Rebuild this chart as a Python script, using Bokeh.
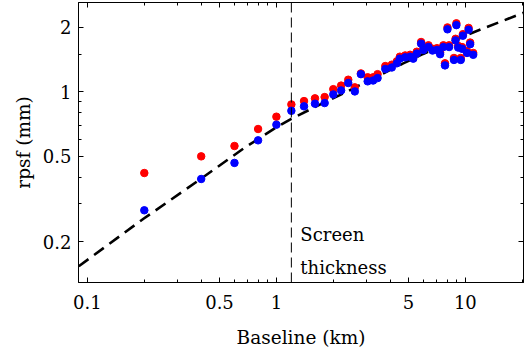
from bokeh.plotting import figure
from bokeh.models import LogAxis, FixedTicker, CustomJSTickFormatter, Span, Label, Range1d
from bokeh.embed import file_html
from bokeh.resources import INLINE

# ---- data ----
baseline_km = [0.2, 0.4, 0.6, 0.8, 1.0, 1.2, 1.4, 1.6, 1.8, 2.0, 2.2, 2.4, 2.6, 2.8,
               3.04, 3.25, 3.43, 3.77, 4.08, 4.34, 4.5, 4.8, 5.1, 5.3, 5.53, 5.83,
               6.0, 6.38, 6.7, 7.07, 7.35, 7.65, 7.8, 8.04, 8.2, 8.7, 8.87, 8.96,
               9.16, 9.45, 9.6, 9.7, 10.2, 10.4, 10.6, 11.0]
rpsf_red = [0.418, 0.500, 0.559, 0.671, 0.766, 0.874, 0.906, 0.933, 0.946, 1.03, 1.07,
            1.14, 1.05, 1.22, 1.17, 1.17, 1.21, 1.32, 1.34, 1.39, 1.46, 1.48, 1.49,
            1.46, 1.54, 1.71, 1.60, 1.65, 1.59, 1.60, 1.53, 1.65, 1.36, 2.00, 1.65,
            1.44, 1.77, 2.09, 1.64, 1.44, 1.62, 1.86, 1.55, 1.99, 1.70, 1.52]
rpsf_blue = [0.280, 0.392, 0.466, 0.594, 0.703, 0.816, 0.856, 0.881, 0.887, 0.973, 1.016,
             1.10, 1.005, 1.21, 1.12, 1.13, 1.16, 1.28, 1.30, 1.36, 1.43, 1.45, 1.46,
             1.43, 1.51, 1.68, 1.57, 1.62, 1.56, 1.57, 1.50, 1.62, 1.33, 1.96, 1.62,
             1.41, 1.74, 2.05, 1.61, 1.41, 1.59, 1.83, 1.52, 1.95, 1.67, 1.49]
fit_baseline = [0.09, 0.198, 0.392, 0.678, 1.0, 1.186, 1.708, 2.178, 4.689, 5.977, 10.98, 20.67]
fit_rpsf = [0.1535, 0.2556, 0.3887, 0.5481, 0.6832, 0.7445, 0.8744, 0.9683, 1.358, 1.504, 1.895, 2.357]
screen_thickness_km = 1.2
screen_label = ["Screen", "thickness"]
screen_label_y = [0.215, 0.152]

x_major = [0.1, 0.5, 1, 5, 10]
x_minor = [0.2, 0.3, 0.4, 0.6, 0.7, 0.8, 0.9, 2, 3, 4, 6, 7, 8, 9, 20]
y_major = [0.2, 0.5, 1, 2]
y_minor = [0.3, 0.4, 0.6, 0.7, 0.8, 0.9, 1.5]

FONT = "DejaVu Serif"

p = figure(width=525, height=356, x_axis_type="log", y_axis_type="log",
           x_range=Range1d(0.0897, 20.3), y_range=Range1d(0.1288, 2.615),
           output_backend="svg", toolbar_location=None,
           min_border_left=78, min_border_right=2, min_border_top=2, min_border_bottom=74)
p.xgrid.visible = False
p.ygrid.visible = False
p.background_fill_color = "white"
p.border_fill_color = "white"
p.outline_line_color = "black"
p.outline_line_width = 1

fmt = CustomJSTickFormatter(code="return tick.toString();")
blank = CustomJSTickFormatter(code="return '';")


def style(ax, show):
    ax.axis_line_color = "black"
    ax.axis_line_width = 1
    ax.major_tick_in = 5
    ax.major_tick_out = 0
    ax.minor_tick_in = 3
    ax.minor_tick_out = 0
    ax.major_tick_line_color = "black"
    ax.minor_tick_line_color = "black"
    ax.major_label_text_font = FONT
    ax.major_label_text_color = "black"
    ax.major_label_text_font_size = "18px"
    if show:
        ax.formatter = fmt
    else:
        ax.formatter = blank
        ax.major_label_standoff = 0


xt = FixedTicker(ticks=x_major, minor_ticks=x_minor)
yt = FixedTicker(ticks=y_major, minor_ticks=y_minor)

p.xaxis.ticker = xt
p.yaxis.ticker = yt
style(p.xaxis[0], True)
style(p.yaxis[0], True)
p.xaxis.major_label_standoff = 12
p.yaxis.major_label_standoff = 7

p.xaxis.axis_label = "Baseline (km)"
p.yaxis.axis_label = "rpsf (mm)"
for ax in (p.xaxis[0], p.yaxis[0]):
    ax.axis_label_text_font = FONT
    ax.axis_label_text_font_size = "18.5px"
    ax.axis_label_text_font_style = "normal"
    ax.axis_label_text_color = "black"
p.xaxis.axis_label_standoff = 15
p.yaxis.axis_label_standoff = 6

top = LogAxis(ticker=FixedTicker(ticks=x_major, minor_ticks=x_minor))
style(top, False)
p.add_layout(top, "above")
right = LogAxis(ticker=FixedTicker(ticks=y_major, minor_ticks=y_minor))
style(right, False)
p.add_layout(right, "right")

p.line(fit_baseline, fit_rpsf, line_color="black", line_width=2.6, line_dash="12 7")
p.add_layout(Span(location=screen_thickness_km, dimension="height", line_color="black",
                  line_width=1, line_dash="10 5"))

p.scatter(baseline_km, rpsf_red, size=7.5, fill_color="#ff0000", line_color="#ff0000")
p.scatter(baseline_km, rpsf_blue, size=7.5, fill_color="#0000ff", line_color="#0000ff")

for txt, yy in zip(screen_label, screen_label_y):
    p.add_layout(Label(x=screen_thickness_km, y=yy, x_offset=9, text=txt,
                       text_font=FONT, text_font_size="18px", text_color="black",
                       text_baseline="alphabetic"))

open("out.html", "w").write(file_html(p, INLINE))
